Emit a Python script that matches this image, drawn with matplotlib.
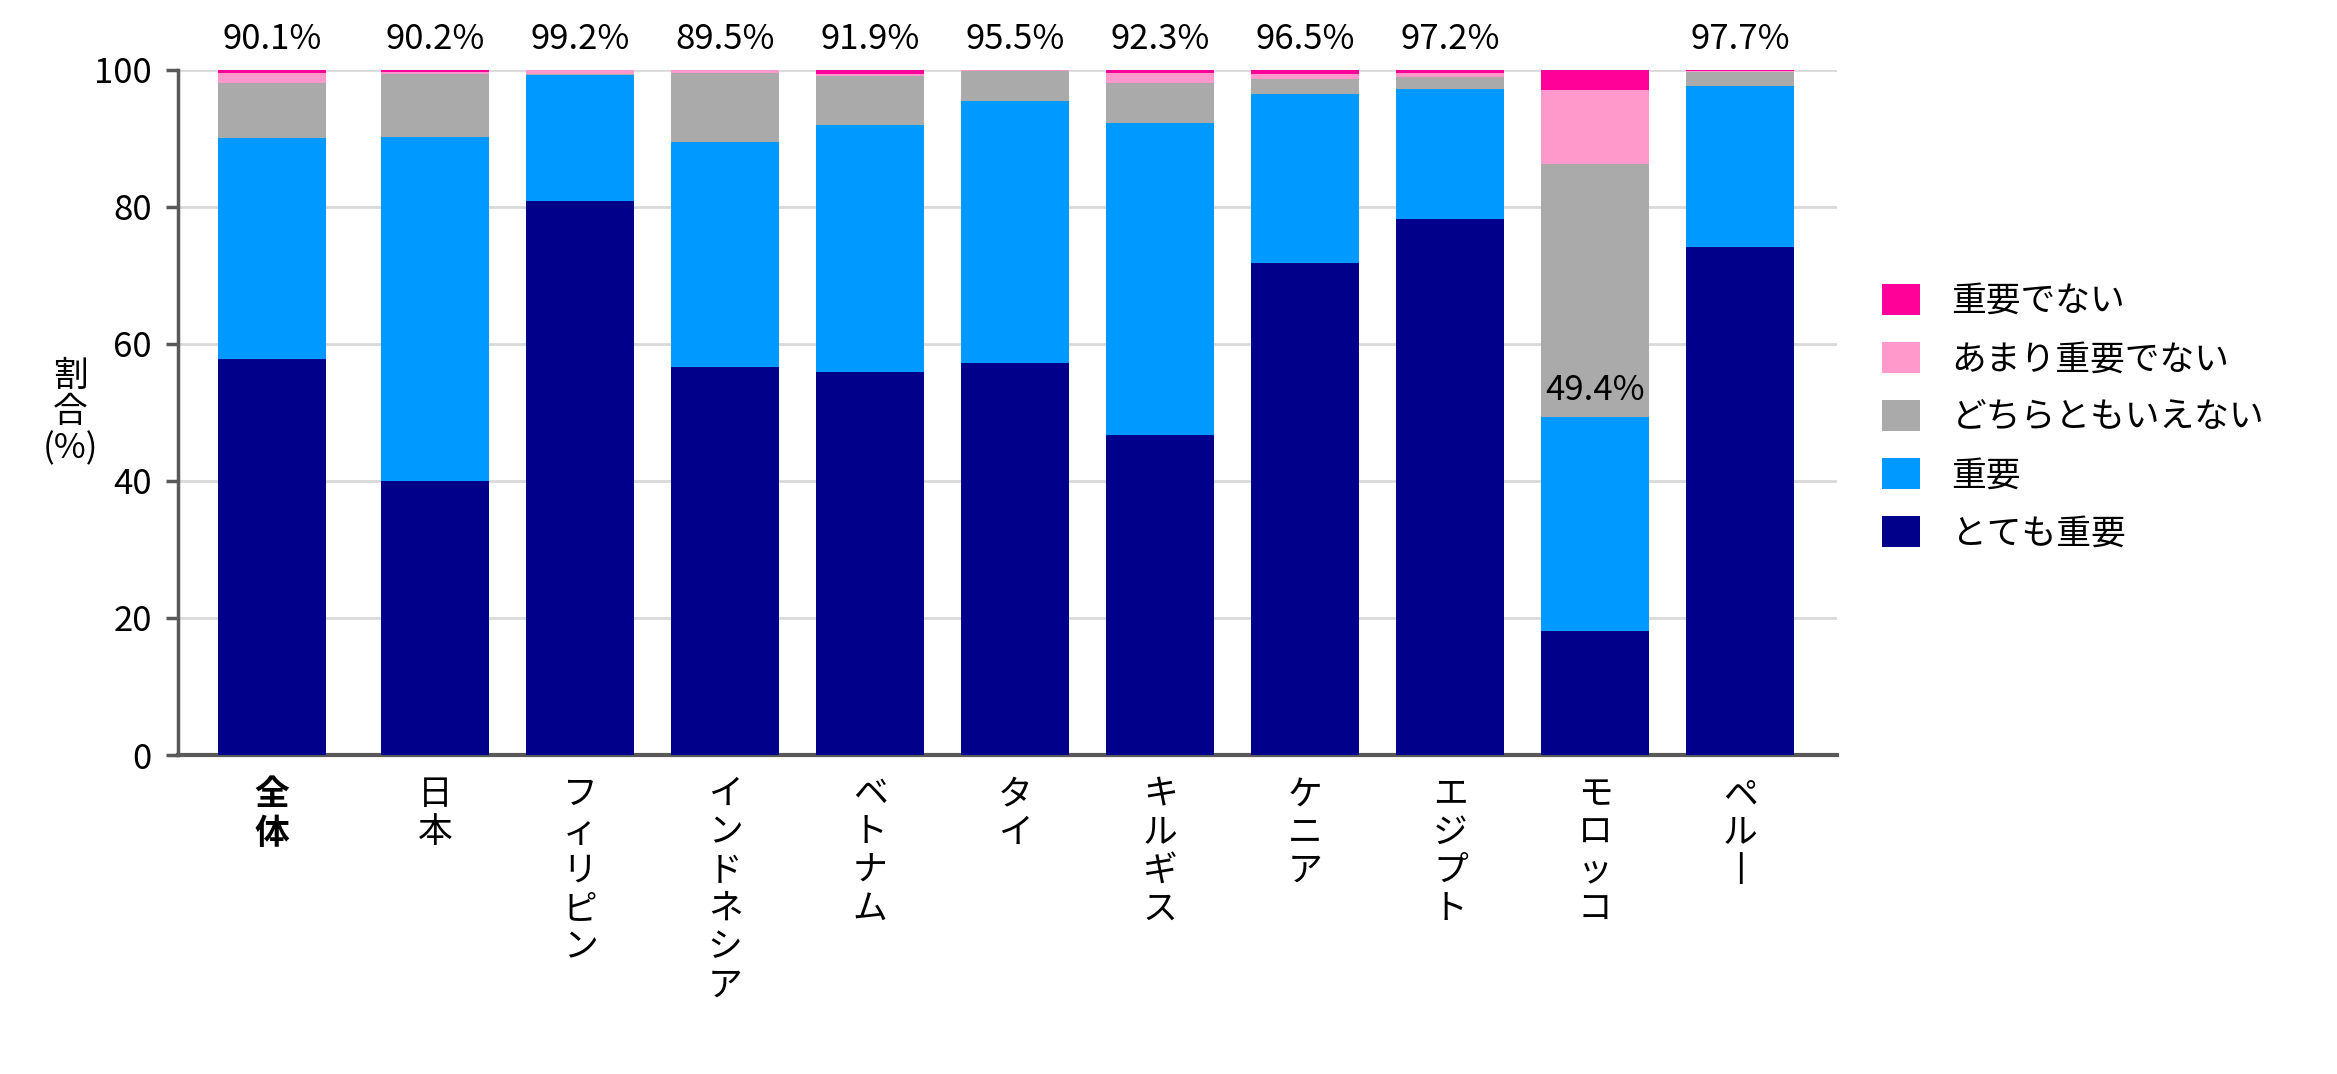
import matplotlib
matplotlib.use("Agg")
import matplotlib.pyplot as plt
import numpy as np

plt.rcParams['font.family'] = ['Noto Sans CJK JP', 'DejaVu Sans']

countries = ['全体', '日本', 'フィリピン', 'インドネシア', 'ベトナム', 'タイ',
             'キルギス', 'ケニア', 'エジプト', 'モロッコ', 'ペルー']
# stacked from the bottom up
very_important = [57.8, 40.0, 80.9, 56.7, 55.9, 57.2, 46.7, 71.8, 78.2, 18.1, 74.1]
important = [32.3, 50.2, 18.3, 32.8, 36.0, 38.3, 45.6, 24.7, 19.0, 31.3, 23.6]
neutral = [8.0, 9.2, 0.2, 10.1, 7.2, 4.3, 5.8, 2.1, 1.8, 36.9, 2.0]
not_very = [1.4, 0.3, 0.5, 0.4, 0.3, 0.2, 1.4, 0.8, 0.5, 10.8, 0.1]
not_important = [0.5, 0.3, 0.1, 0.0, 0.6, 0.0, 0.5, 0.6, 0.5, 2.9, 0.2]
totals = ['90.1%', '90.2%', '99.2%', '89.5%', '91.9%', '95.5%',
          '92.3%', '96.5%', '97.2%', '49.4%', '97.7%']

series_names = ['とても重要', '重要', 'どちらともいえない', 'あまり重要でない', '重要でない']
colors = ['#00008B', '#0099FF', '#AAAAAA', '#FF99CC', '#FF0099']
series = [very_important, important, neutral, not_very, not_important]

FS = 25

fig = plt.figure(figsize=(23.37, 10.74), dpi=100)
ax = fig.add_axes([0.076, 0.297, 0.710, 0.638])

# the overall bar stands a bit apart from the countries
x = np.array([0] + [1.125 + i for i in range(len(countries) - 1)])

bottom = np.zeros(len(countries))
handles = []
for vals, name, col in zip(series, series_names, colors):
    vals = np.array(vals)
    b = ax.bar(x, vals, bottom=bottom, width=0.745, color=col, label=name,
               zorder=3)
    handles.append(b)
    bottom += vals

top_share = np.array(very_important) + np.array(important)
for xi, share, lab in zip(x, top_share, totals):
    if share < 60:
        ax.annotate(lab, (xi, share), xytext=(0, 6), textcoords='offset points',
                    ha='center', va='bottom', fontsize=FS, zorder=5)
    else:
        ax.annotate(lab, (xi, 100), xytext=(0, 9), textcoords='offset points',
                    ha='center', va='bottom', fontsize=FS, zorder=5)

ax.set_ylim(0, 100)
ax.set_xlim(-0.65, 10.79)
ax.set_yticks(range(0, 101, 20))
ax.yaxis.grid(True, color='#D9D9D9', linewidth=2, zorder=0)
ax.set_axisbelow(True)

for s in ['top', 'right']:
    ax.spines[s].set_visible(False)
ax.spines['left'].set_color('#595959')
ax.spines['left'].set_linewidth(2.5)
ax.spines['bottom'].set_color('#595959')
ax.spines['bottom'].set_linewidth(3)

ax.tick_params(axis='y', length=8.5, width=2.5, color='#595959', labelsize=FS, pad=10)
ax.tick_params(axis='x', length=0, pad=16)

ax.set_xticks(x)
# vertical text: one character per line, long vowel mark turned upright
vlabels = ['\n'.join(c.replace('ー', '丨')) for c in countries]
ax.set_xticklabels(vlabels, fontsize=FS, va='top', linespacing=1.12)
ax.get_xticklabels()[0].set_fontweight('bold')

ax.set_ylabel('割\n合\n(%)', rotation=0, fontsize=FS, va='center', ha='center',
              labelpad=17, linespacing=1.05)

fig.legend(handles[::-1], series_names[::-1], loc='center left',
           bbox_to_anchor=(0.792, 0.611), frameon=False, fontsize=FS,
           handlelength=1.1, handleheight=0.98, handletextpad=0.9,
           labelspacing=0.66)

fig.savefig('out.png', dpi=100)
